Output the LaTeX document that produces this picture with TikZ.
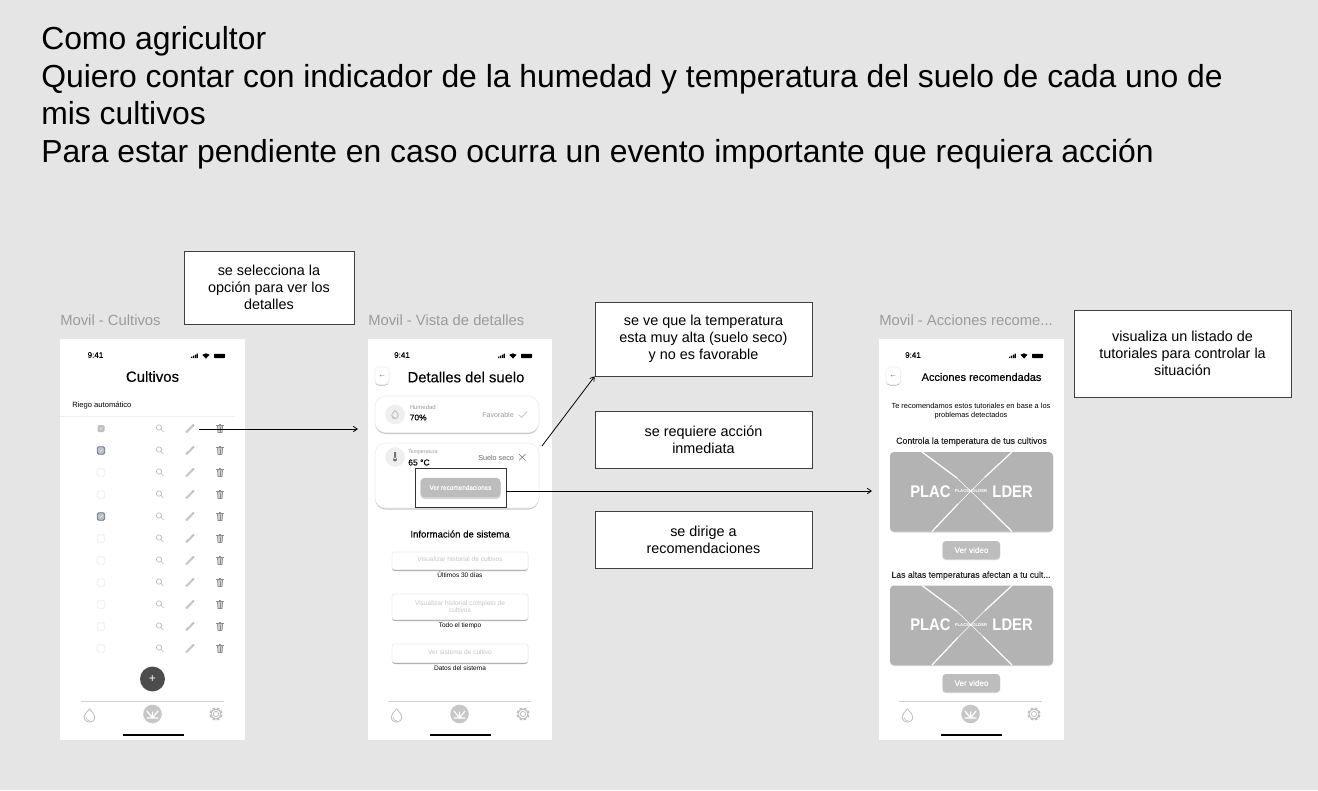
\documentclass[tikz,border=0pt]{standalone}
\usepackage{fontspec}
\setmainfont{Liberation Sans}
\newfontfamily\medf[FakeBold=0.22]{Liberation Sans}
\usetikzlibrary{arrows.meta}
\definecolor{bg}{HTML}{E5E5E5}
\definecolor{capt}{HTML}{9B9B9B}
\definecolor{ic}{HTML}{BDBDBD}
\definecolor{phold}{HTML}{B3B3B3}
\definecolor{btn}{HTML}{BDBDBD}
\definecolor{ltxt}{HTML}{C4C4C4}
\definecolor{mtxt}{HTML}{9A9A9A}
\definecolor{shad}{HTML}{C8C8C8}
\definecolor{soft}{HTML}{EFEFEF}
\definecolor{chk}{HTML}{5F7A9E}
\newcommand{\pxf}[2]{\fontsize{#1}{#2}\selectfont}
\tikzset{
  x=0.75pt,y=-0.75pt,
  note/.style={draw=black!75,line width=0.5pt,fill=white,align=center,inner sep=0pt,font=\pxf{10.8}{12.9}},
  capt/.style={text=capt,anchor=west,inner sep=0pt,font=\pxf{11.1}{13}},
  conn/.style={draw=black,line width=0.6pt,-{Straight Barb[length=3pt,width=4pt]}},
  lab/.style={inner sep=0pt,align=center},
  cardface/.style={fill=white,draw=soft,line width=0.5pt,rounded corners=8pt},
}
% status bar: #1 x of clock, #2 x of signal bars
\newcommand{\statusbar}[2]{
  \node[lab,font=\medf\pxf{6.0}{7.5}] at (#1,355) {9:41};
  \fill[black] (#2,358) rectangle +(1.2,-1.4) (#2+1.9,358) rectangle +(1.2,-2.4) (#2+3.8,358) rectangle +(1.2,-3.4) (#2+5.7,358) rectangle +(1.2,-4.4);
  \fill[black] (#2+15,358.5) -- (#2+11.3,354.8) arc[start angle=-135,end angle=-45,radius=5.2] -- cycle;
  \fill[black,rounded corners=0.5pt] (#2+23,353.8) rectangle (#2+34,358);
}
% bottom bar: #1 left of the rule
\newcommand{\bottombar}[1]{
  \draw[draw=black!18,line width=0.6pt] (#1,701) -- (#1+143,701);
  \dropicon{#1+8.5}{715.5}{1}
  \fill[black!22] (#1+71.5,714) circle[radius=9.3];
  \draw[white,line width=0.9pt,line cap=round] (#1+71.5,718) -- (#1+66,711) (#1+71.5,718) -- (#1+77,711) (#1+71.5,718) -- (#1+71.5,712) (#1+66,718) -- (#1+77,718);
  \gearicon{#1+135}{714}
  \draw[black,line width=1.6pt] (#1+41.5,735) -- (#1+102.5,735);
}
\newcommand{\dropicon}[3]{
  \begin{scope}[shift={(#1,#2)},scale=#3]
  \draw[ic,line width=0.6pt] (0,-6.7) .. controls (3,-3) and (5.3,-1) .. (5.3,1.2)
     .. controls (5.3,8.5) and (-5.3,8.5) .. (-5.3,1.2) .. controls (-5.3,-1) and (-3,-3) .. (0,-6.7);
  \draw[ic,line width=0.4pt] (-3.4,1.8) .. controls (-3.2,4.5) and (-1.5,5.2) .. (0.5,5.2);
  \end{scope}
}
\newcommand{\gearicon}[2]{
  \draw[ic,line width=0.6pt] (#1,#2) circle[radius=2.6];
  \draw[ic,line width=0.7pt] (#1,#2) circle[radius=5];
  \foreach \a in {0,45,...,315} {\draw[ic,line width=1.7pt] (#1,#2) ++(\a+22.5:4.9) -- ++(\a+22.5:1.6);}
}
\newcommand{\searchicon}[2]{
  \draw[ic,line width=0.5pt] (#1-1,#2-1) circle[radius=2.7] (#1+1,#2+1) -- (#1+3.6,#2+3.6);
}
\newcommand{\pencilicon}[2]{
  \draw[black!28,line width=1.5pt] (#1-3.8,#2+3.8) -- (#1+3.8,#2-3.8);
  \draw[white,line width=0.25pt] (#1-3.2,#2+3.2) -- (#1+2.6,#2-2.6);
}
\newcommand{\trashicon}[2]{
  \draw[black!45,fill=black!18,line width=0.45pt] (#1-2.6,#2-2.6) -- (#1-2.1,#2+4) -- (#1+2.1,#2+4) -- (#1+2.6,#2-2.6) -- cycle;
  \draw[black!45,line width=0.45pt] (#1-3.6,#2-3) -- (#1+3.6,#2-3) (#1-1.2,#2-4) -- (#1+1.2,#2-4);
  \draw[black!45,line width=0.35pt] (#1,#2-1.5) -- (#1,#2+3);
}
% placeholder: #1 top y
\newcommand{\placeholder}[1]{
  \fill[black!16,rounded corners=3pt] (890,#1+1) rectangle (1053,#1+80.5);
  \fill[phold,rounded corners=3pt] (890,#1) rectangle (1053,#1+79.5);
  \draw[white,line width=0.9pt] (922,#1) -- (957,#1+26);
  \draw[white,line width=0.9pt] (1012,#1) -- (985,#1+25);
  \draw[white,line width=0.9pt] (932,#1+79.5) -- (958,#1+52);
  \draw[white,line width=0.9pt] (1012,#1+79.5) -- (983,#1+51);
  \draw[white,line width=0.4pt] (957,#1+26) -- (983,#1+51) (985,#1+25) -- (958,#1+52);
  \node[lab,text=white,font=\pxf{12.6}{15}\bfseries,anchor=west] at (910,#1+39.5) {\scalebox{.88}[1]{PLAC}};
  \node[lab,text=white,font=\pxf{12.6}{15}\bfseries,anchor=east] at (1033,#1+39.5) {\scalebox{.88}[1]{LDER}};
  \node[lab,text=white,font=\pxf{3.2}{4}\bfseries] at (971,#1+39.5) {PLACEHOLDER};
}
\newcommand{\vidbutton}[2]{
  \fill[black!16,rounded corners=2.5pt] (942.5,#1+1) rectangle (1000,#1+19);
  \fill[btn,rounded corners=2.5pt] (942.5,#1) rectangle (1000,#1+18);
  \node[lab,text=white,font=\medf\pxf{6.1}{8}] at (971.5,#1+9) {#2};
}
\begin{document}
\begin{tikzpicture}
\useasboundingbox (0,0) rectangle (1318,790);
\fill[bg] (0,0) rectangle (1318,790);

% title
\node[lab,anchor=north west,align=left,font=\pxf{23.9}{28.35}] (title) at (41,26) {Como agricultor\\Quiero contar con indicador de la humedad y temperatura del suelo de cada uno de\\mis cultivos\\Para estar pendiente en caso ocurra un evento importante que requiera acción};

% captions
\node[capt] (c1) at (60,320.5) {Movil - Cultivos};
\node[capt] (c2) at (368,320.5) {Movil - Vista de detalles};
\node[capt] (c3) at (879,320.5) {Movil - Acciones recome...};

% screens
\fill[white] (60,339) rectangle (245,740);
\fill[white] (368,339) rectangle (552,740);
\fill[white] (879,339) rectangle (1063.5,740);

% ---------- screen 1
\statusbar{95.5}{191}
\node[lab,font=\medf\pxf{11.2}{14}] (t1) at (152.5,376.5) {Cultivos};
\node[lab,anchor=west,font=\pxf{5.7}{7}] at (72,405.5) {Riego automático};
\draw[soft,line width=1pt] (60,416.5) -- (235,416.5);
\foreach \r/\ty in {0/1,1/2,2/0,3/0,4/2,5/0,6/0,7/0,8/0,9/0,10/0} {
  \pgfmathsetmacro{\yy}{428.5+22*\r}
  \ifnum\ty=0
    \draw[soft,line width=0.6pt,rounded corners=1.2pt] (97.2,\yy-3.8) rectangle (104.8,\yy+3.8);
  \fi
  \ifnum\ty=1
    \fill[black!25,rounded corners=1pt] (97.5,\yy-3.5) rectangle (104.5,\yy+3.5);
    \draw[white,line width=0.25pt] (99.5,\yy) -- (100.5,\yy+1) -- (102.5,\yy-1.2);
  \fi
  \ifnum\ty=2
    \draw[chk,fill=black!25,line width=0.6pt,rounded corners=1.2pt] (97.2,\yy-3.8) rectangle (104.8,\yy+3.8);
    \draw[white,line width=0.25pt] (99.5,\yy) -- (100.5,\yy+1) -- (102.5,\yy-1.2);
  \fi
  \searchicon{160}{\yy}
  \pencilicon{190}{\yy}
  \trashicon{220}{\yy}
}
\node[circle,fill=black!70,minimum size=18.7pt,inner sep=0pt,text=white,font=\pxf{9}{10}] (fab) at (152.5,679) {+};
\bottombar{81}

% ---------- screen 2
\statusbar{402}{498}
\fill[black!30,rounded corners=3pt] (375,367.5) rectangle (389,385.5);
\fill[white,draw=soft,line width=0.4pt,rounded corners=3pt] (375,367) rectangle (389,384.5);
\node[lab,font=\pxf{6}{7},text=black!60] at (382,376) {←};
\node[lab,font=\medf\pxf{11.1}{14}] (t2) at (466,377) {Detalles del suelo};
% humidity card
\fill[shad,rounded corners=8pt] (375,398) rectangle (539,434);
\path[cardface] (375,396) rectangle (539,432.5);
\fill[soft] (395,414.5) circle[radius=9.8];
\dropicon{395}{414.5}{0.62}
\node[lab,anchor=west,text=mtxt,font=\pxf{4.5}{5}] at (409.5,407.5) {Humedad};
\node[lab,anchor=west,font=\medf\pxf{6.3}{9}] at (409.5,417.5) {70\%};
\node[lab,anchor=west,text=mtxt,font=\pxf{5.3}{7}] at (482,414.5) {Favorable};
\draw[ic,line width=0.5pt] (518.5,414.5) -- (521.5,417.5) -- (527,411.5);
% temperature card
\fill[shad,rounded corners=8pt] (375,445) rectangle (539,509.5);
\path[cardface] (375,443) rectangle (539,508);
\fill[soft] (395,457) circle[radius=9.8];
\fill[black!55] (395,459.5) circle[radius=2] (394,452) rectangle (396,459);
\node[lab,anchor=west,text=mtxt,font=\pxf{3.9}{5}] at (408,452.5) {Temperatura};
\node[lab,anchor=west,font=\medf\pxf{6.4}{9}] at (408,462.5) {65 °C};
\node[lab,anchor=west,text=black!60,font=\pxf{5.4}{7}] at (478,457.5) {Suelo seco};
\draw[black!55,line width=0.5pt] (519,454) -- (525.5,460.5) (525.5,454) -- (519,460.5);
% recommend button
\fill[black!16,rounded corners=3pt] (420.5,479) rectangle (500.5,499);
\node[fill=btn,rounded corners=3pt,minimum width=60pt,minimum height=14.4pt,inner sep=0pt,text=white,font=\medf\pxf{4.8}{6}] (rec) at (460.5,487.5) {Ver recomendaciones};
\node[draw=black!80,line width=0.5pt,minimum width=68.25pt,minimum height=29.6pt,inner sep=0pt] (sel) at (460.5,488) {};
\node[lab,font=\medf\pxf{7.2}{9}] (info) at (460,534) {Información de sistema};
\fill[black!30,rounded corners=2pt] (392,552) rectangle (528,571);
\fill[white,draw=soft,line width=0.4pt,rounded corners=2pt] (392,552) rectangle (528,569.5);
\node[lab,text=ltxt,font=\pxf{4.9}{6}] at (460,559.5) {Visualizar historial de cultivos};
\node[lab,font=\pxf{4.9}{6}] at (460,575) {Últimos 30 días};
\fill[black!30,rounded corners=2pt] (392,594) rectangle (528,621);
\fill[white,draw=soft,line width=0.4pt,rounded corners=2pt] (392,594) rectangle (528,619.5);
\node[lab,text=ltxt,font=\pxf{4.9}{5.6}] at (460,606.5) {Visualizar historial completo de\\cultivos};
\node[lab,font=\pxf{4.9}{6}] at (460,625.5) {Todo el tiempo};
\fill[black!30,rounded corners=2pt] (392,644) rectangle (528,664);
\fill[white,draw=soft,line width=0.4pt,rounded corners=2pt] (392,644) rectangle (528,662.5);
\node[lab,text=ltxt,font=\pxf{4.9}{6}] at (460,652.5) {Ver sistema de cultivo};
\node[lab,font=\pxf{4.9}{6}] at (460,668) {Datos del sistema};
\bottombar{388}

% ---------- screen 3
\statusbar{913}{1009}
\fill[black!30,rounded corners=3pt] (886,367.5) rectangle (900.5,385.5);
\fill[white,draw=soft,line width=0.4pt,rounded corners=3pt] (886,367) rectangle (900.5,384.5);
\node[lab,font=\pxf{6}{7},text=black!60] at (893,376.5) {←};
\node[lab,font=\medf\pxf{8.2}{10}] (t3) at (981.5,377) {Acciones recomendadas};
\node[lab,font=\pxf{5.55}{6.8}] at (971,411) {Te recomendamos estos tutoriales en base a los\\problemas detectados};
\node[lab,font=\medf\pxf{6.6}{8},text=black!85] at (971.5,441.5) {Controla la temperatura de tus cultivos};
\placeholder{452}
\vidbutton{541}{Ver video}
\node[lab,font=\medf\pxf{6.5}{8},text=black!85] at (971,575.5) {Las altas temperaturas afectan a tu cult...};
\placeholder{585.5}
\vidbutton{674}{Ver video}
\bottombar{899}

% notes
\node[note,minimum width=127.5pt,minimum height=54.75pt] (n1) at (269,287.5) {se selecciona la\\opción para ver los\\detalles};
\node[note,minimum width=162.75pt,minimum height=55.5pt] (n2) at (703.5,339) {se ve que la temperatura\\esta muy alta (suelo seco)\\y no es favorable};
\node[note,minimum width=162.75pt,minimum height=42.75pt] (n3) at (703.5,439.5) {se requiere acción\\inmediata};
\node[note,minimum width=162.75pt,minimum height=42.75pt] (n4) at (703.5,539.5) {se dirige a\\recomendaciones};
\node[note,minimum width=162.75pt,minimum height=65.25pt] (n5) at (1182.5,353.5) {visualiza un listado de\\tutoriales para controlar la\\situación};

% connectors
\coordinate (a1s) at (199,429);
\coordinate (a1e) at (358,429);
\draw[conn] (a1s) -- (a1e);
\coordinate (a2s) at (542,446);
\draw[conn] (a2s) -- (n2.south west);
\coordinate (a3s) at (sel.east |- 0,491);
\coordinate (a3e) at (872,491);
\draw[conn] (a3s) -- (a3e);
\end{tikzpicture}
\end{document}
